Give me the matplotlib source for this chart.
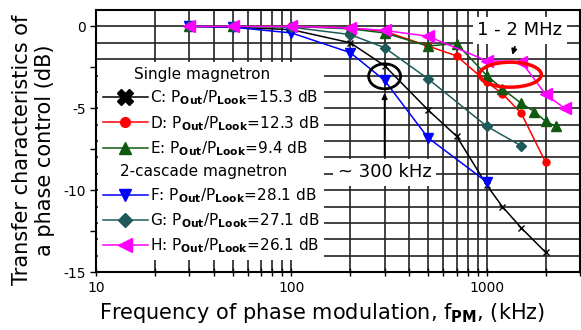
import matplotlib
matplotlib.use('Agg')
import matplotlib.pyplot as plt
import numpy as np
from matplotlib.lines import Line2D
from matplotlib.patches import Ellipse
from matplotlib.ticker import FixedLocator, MultipleLocator, NullFormatter

plt.rcParams['font.family'] = ['DejaVu Sans']
plt.rcParams['mathtext.fontset'] = 'dejavusans'

""" ----------------------------------------- """
# data (kHz, dB)
freq_c = [30, 50, 100, 200, 300, 500, 700, 1000, 1200, 1500, 2000]
db_c = [0, -0.05, -0.2, -1.0, -2.4, -5.1, -6.7, -9.7, -11.0, -12.3, -13.8]

freq_d = [30, 50, 100, 200, 300, 500, 700, 1000, 1200, 1500, 2000]
db_d = [0, 0, 0, -0.1, -0.3, -1.2, -1.8, -3.4, -4.1, -5.3, -8.3]

freq_e = [30, 50, 100, 200, 300, 500, 700, 1000, 1200, 1500, 1750, 2000, 2250]
db_e = [0, 0, 0, -0.15, -0.4, -1.2, -1.05, -3.0, -3.8, -4.7, -5.2, -5.8, -6.1]

freq_f = [30, 50, 100, 200, 300, 500, 1000]
db_f = [0, -0.05, -0.4, -1.6, -3.3, -6.8, -9.5]

freq_g = [30, 50, 100, 200, 300, 500, 1000, 1500]
db_g = [0, 0, -0.05, -0.5, -1.3, -3.2, -6.1, -7.3]

freq_h = [30, 50, 100, 200, 300, 500, 1000, 1500, 2000, 2500]
db_h = [0, 0, 0, -0.1, -0.25, -0.6, -2.1, -2.15, -4.15, -5.0]

labels = ['C: P$_{\\mathbf{Out}}$/P$_{\\mathbf{Look}}$=15.3 dB',
          'D: P$_{\\mathbf{Out}}$/P$_{\\mathbf{Look}}$=12.3 dB',
          'E: P$_{\\mathbf{Out}}$/P$_{\\mathbf{Look}}$=9.4 dB',
          'F: P$_{\\mathbf{Out}}$/P$_{\\mathbf{Look}}$=28.1 dB',
          'G: P$_{\\mathbf{Out}}$/P$_{\\mathbf{Look}}$=27.1 dB',
          'H: P$_{\\mathbf{Out}}$/P$_{\\mathbf{Look}}$=26.1 dB']
groups = ['Single magnetron', '2-cascade magnetron']
""" ----------------------------------------- """

fig = plt.figure(figsize=(5.81, 3.30), dpi=100)
ax = fig.add_axes([96/581, 1 - 272/330, 484/581, 262/330])
ax.set_xscale('log')
ax.set_xlim(10, 3000)
ax.set_ylim(-15, 1)

green = '#105a10'
teal = '#1f5a5a'
ax.plot(freq_c, db_c, color='black', lw=1.1, marker='x', ms=5, mew=1)
ax.plot(freq_d, db_d, color='red', lw=1.1, marker='o', ms=5)
ax.plot(freq_e, db_e, color=green, lw=1.1, marker='^', ms=7)
ax.plot(freq_f, db_f, color='blue', lw=1.1, marker='v', ms=7.5)
ax.plot(freq_g, db_g, color=teal, lw=1.1, marker='D', ms=5)
ax.plot(freq_h, db_h, color='magenta', lw=1.1, marker='<', ms=8)

# grid
ax.xaxis.set_minor_locator(FixedLocator([k * d for d in (10, 100, 1000) for k in range(2, 10)]))
ax.xaxis.set_minor_formatter(NullFormatter())
ax.set_xticks([10, 100, 1000])
ax.set_xticklabels(['10', '100', '1000'])
ax.set_yticks([0, -5, -10, -15])
ax.set_yticklabels(['0', '-5', '-10', '-15'])
ax.yaxis.set_minor_locator(MultipleLocator(2.5))
for v in np.arange(-14, 1, 1):
    ax.axhline(v, color='#222222', lw=1.2, zorder=0)
ax.grid(True, which='both', axis='x', color='#222222', lw=1.2, zorder=0)
ax.set_axisbelow(True)
ax.tick_params(axis='x', which='both', direction='inout', length=6, width=1, labelsize=10)
ax.tick_params(axis='y', which='both', direction='out', length=4, width=1, labelsize=10)
for s in ax.spines.values():
    s.set_linewidth(1.5)
    s.set_zorder(8)

ax.set_xlabel('Frequency of phase modulation, f$_{\\mathbf{PM}}$, (kHz)', fontsize=15)
ax.xaxis.set_label_coords(0.467, -0.11)
ax.set_ylabel('Transfer characteristics of\na phase control (dB)', fontsize=15)
ax.yaxis.set_label_coords(-0.085, 0.465)

# legend with group headings
blank = Line2D([], [], linestyle='none')
hc = Line2D([], [], color='black', lw=1.1, marker='X', ms=11, mec='black', mfc='black')
hd = Line2D([], [], color='red', lw=1.1, marker='o', ms=7)
he = Line2D([], [], color=green, lw=1.1, marker='^', ms=9)
hf = Line2D([], [], color='blue', lw=1.1, marker='v', ms=9)
hg = Line2D([], [], color=teal, lw=1.1, marker='D', ms=7)
hh = Line2D([], [], color='magenta', lw=1.1, marker='<', ms=10)
handles = [blank, hc, hd, he, blank, hf, hg, hh]
leg_labels = [groups[0]] + labels[:3] + [groups[1]] + labels[3:]
leg = ax.legend(handles, leg_labels, loc='upper left', bbox_to_anchor=(0.004, 0.80),
                borderaxespad=0, fontsize=11, frameon=True, fancybox=False,
                edgecolor='none', framealpha=1, handlelength=3.0, handletextpad=0.1,
                labelspacing=0.43, borderpad=0.3)
leg.set_zorder(7)
texts = leg.get_texts()
texts[0].set_position((-16, 0))
texts[4].set_position((-30, 0))

# annotations
ax.annotate('~ 300 kHz', xy=(300, -3.9), xytext=(300, -8.9), fontsize=13,
            ha='center', va='center', zorder=7,
            bbox=dict(boxstyle='square,pad=0.25', fc='white', ec='none'),
            arrowprops=dict(arrowstyle='-|>', color='black', lw=1.2, mutation_scale=8))
ax.annotate('1 - 2 MHz', xy=(1340, -1.9), xytext=(1476, -0.25), fontsize=13,
            ha='center', va='center', zorder=7,
            bbox=dict(boxstyle='square,pad=0.25', fc='white', ec='none'),
            arrowprops=dict(arrowstyle='-|>', color='black', lw=1.2, mutation_scale=8))


def to_axes(f, d):
    xa = (np.log10(f) - 1) / (np.log10(3000) - 1)
    ya = (d + 15) / 16
    return xa, ya


cx, cy = to_axes(300, -3.05)
ax.add_patch(Ellipse((cx, cy), 32/484, 25/262, transform=ax.transAxes,
                     fill=False, ec='black', lw=2, zorder=6))
ex, ey = to_axes(1320, -2.95)
ax.add_patch(Ellipse((ex, ey), 62/484, 25/262, transform=ax.transAxes,
                     fill=False, ec='red', lw=2.5, zorder=6))

plt.savefig('out.png', dpi=100)
